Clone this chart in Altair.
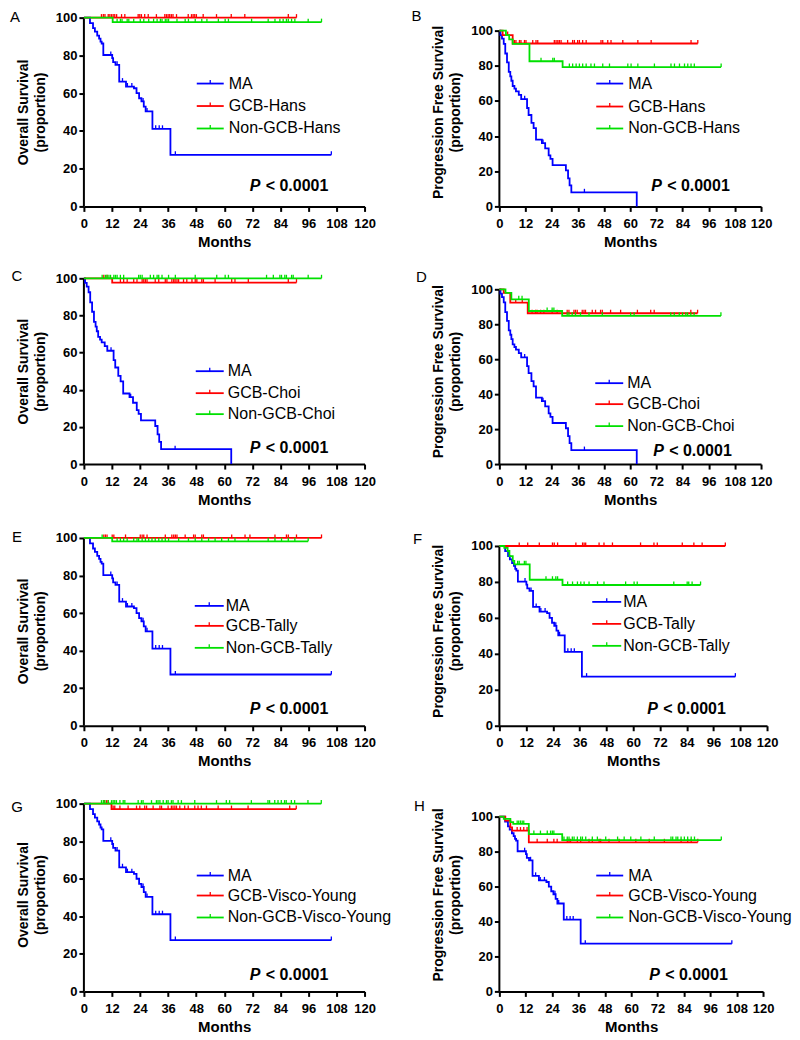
import altair as alt
import pandas as pd

FONT = "Liberation Sans"
X_TICKS = list(range(0, 121, 12))
Y_TICKS = [0, 20, 40, 60, 80, 100]
BLUE, RED, GREEN = "#0000ff", "#ff0000", "#00e000"
TICK = "M0,0L0,-1"

# ---- MA curve 1 (used in A, E, F, G, H)
MA1_T = [0, 2.6, 3.9, 4.7, 5.7, 6.5, 7.1, 7.6, 8.3, 12.1, 12.5, 13.5, 15.1, 18.0, 21.4, 22.5, 23.6, 24.6, 25.6, 26.4, 29.3, 37.0]
MA1_S = [100, 97.1, 94.4, 92.6, 90.5, 88.9, 87.3, 86.3, 80.2, 78.5, 76.4, 75.0, 66.1, 63.5, 62.6, 60.0, 57.3, 55.6, 52.9, 50.3, 41.1, 27.3]
MA1_END = 105.8
MA1_CENS = [11.5, 14.2, 16.5, 18.6, 20.5, 25.3, 27.0, 30.7, 32.2, 33.6, 39.1, 105.8]

# ---- MA curve 2 (used in B, C, D)
MA2_T = [0, 0.5, 1.2, 2.0, 2.7, 3.5, 4.3, 5.0, 5.5, 6.1, 6.9, 7.6, 8.9, 10.0, 12.7, 13.4, 14.7, 15.7, 16.8, 19.5, 21.0, 22.6, 23.4, 24.4, 30.5, 31.5, 32.2, 33.0, 63.0]
MA2_S = [100, 97.5, 95.5, 92.5, 87.0, 82.0, 76.5, 74.0, 71.5, 68.5, 67.0, 65.5, 63.5, 61.0, 56.0, 52.0, 47.5, 44.5, 38.0, 36.0, 33.0, 29.0, 27.0, 23.5, 20.5, 16.0, 12.0, 8.0, 0.0]
MA2_END = 63.0
MA2_CENS = [11.6, 20.0, 39.0]

# ---- A: OS, Hans
A_RED_T = [0]; A_RED_S = [100]; A_RED_END = 90.9
A_RED_CENS = [7.5, 8.3, 9.0, 10.4, 11.1, 11.8, 12.5, 13.2, 14.0, 16.1, 17.5, 23.2, 23.9, 24.6, 26.0, 27.5, 31.0, 34.6, 35.3, 36.0, 36.7, 37.4, 38.1, 39.6, 44.6, 46.0, 46.7, 47.4, 48.1, 51.0, 56.7, 63.0, 68.8, 87.4, 90.9]
A_GRN_T = [0, 12.3]; A_GRN_S = [100, 97.6]; A_GRN_END = 101.6
A_GRN_CENS = [14.2, 15.6, 16.3, 18.5, 19.2, 21.3, 24.1, 25.6, 27.7, 29.8, 31.3, 32.7, 33.4, 34.8, 35.5, 36.2, 39.8, 43.3, 44.7, 47.6, 50.4, 52.6, 57.5, 60.4, 61.8, 71.7, 78.8, 81.7, 83.8, 85.2, 86.6, 87.4, 88.8, 90.2, 95.9, 101.6]

# ---- B: PFS, Hans
B_RED_T = [0, 1.5, 6.1]; B_RED_S = [100, 97.5, 92.7]; B_RED_END = 91.0
B_RED_CENS = [3.8, 6.9, 7.6, 9.2, 9.9, 11.5, 12.2, 15.3, 16.8, 17.6, 25.2, 26.0, 26.8, 27.5, 28.3, 31.3, 33.6, 34.4, 35.9, 36.7, 38.2, 39.8, 46.6, 47.4, 49.7, 51.2, 56.6, 63.5, 69.6, 87.9, 91.0]
B_GRN_T = [0, 3.0, 4.5, 6.1, 13.8, 29.0]; B_GRN_S = [100, 97.5, 95.0, 92.5, 82.6, 79.3]; B_GRN_END = 101.7
B_GRN_CENS = [19.1, 24.5, 25.2, 32.1, 33.6, 35.2, 36.7, 38.2, 39.8, 42.0, 43.6, 47.4, 50.5, 58.9, 60.4, 63.5, 71.1, 78.7, 80.3, 82.6, 84.9, 86.4, 87.9, 89.4, 101.7]

# ---- C: OS, Choi
C_RED_T = [0, 12.1]; C_RED_S = [100, 97.7]; C_RED_END = 90.9
C_RED_CENS = [8.5, 9.9, 15.6, 17.0, 18.5, 21.3, 22.7, 24.9, 25.6, 26.3, 27.0, 30.5, 32.0, 34.8, 35.5, 37.6, 38.4, 39.0, 39.8, 40.5, 42.6, 44.0, 46.2, 47.6, 48.3, 50.4, 51.1, 56.1, 63.2, 64.6, 70.3, 87.4, 90.9]
C_GRN_T = [0]; C_GRN_S = [100]; C_GRN_END = 101.6
C_GRN_CENS = [7.8, 9.2, 9.9, 10.7, 11.4, 12.8, 13.5, 14.2, 15.6, 17.0, 23.4, 24.1, 24.9, 28.4, 29.8, 31.3, 32.0, 33.4, 36.2, 39.1, 47.6, 56.8, 60.4, 61.8, 78.1, 81.0, 83.8, 84.5, 85.9, 86.6, 88.8, 89.5, 95.9, 101.6]

# ---- D: PFS, Choi
D_RED_T = [0, 2.0, 5.0, 13.0]; D_RED_S = [100, 98.0, 92.4, 86.3]; D_RED_END = 90.9
D_RED_CENS = [7.5, 10.5, 15.0, 16.6, 17.3, 18.9, 20.4, 24.2, 26.5, 31.1, 31.9, 34.2, 34.9, 35.7, 38.0, 38.8, 39.5, 42.6, 44.1, 46.4, 47.2, 51.0, 55.6, 63.3, 69.4, 71.0, 87.8, 90.9]
D_GRN_T = [0, 2.8, 5.5, 13.5, 28.8]; D_GRN_S = [100, 98.0, 94.3, 87.6, 84.8]; D_GRN_END = 101.6
D_GRN_CENS = [8.9, 10.4, 21.9, 24.2, 25.0, 31.1, 31.9, 33.4, 34.9, 37.2, 41.1, 47.2, 60.2, 61.8, 78.6, 80.2, 82.5, 84.0, 85.5, 86.3, 87.8, 89.3, 101.6]

# ---- E: OS, Tally
E_RED_T = [0]; E_RED_S = [100]; E_RED_END = 101.6
E_RED_CENS = [8.5, 9.2, 9.9, 12.1, 12.8, 17.8, 24.1, 24.9, 25.6, 27.0, 34.8, 37.6, 38.4, 39.1, 39.8, 43.3, 46.9, 47.6, 50.4, 51.1, 63.2, 68.9, 71.0, 81.7, 86.6, 87.4, 90.9, 101.6]
E_GRN_T = [0, 12.1]; E_GRN_S = [100, 98.2]; E_GRN_END = 95.9
E_GRN_CENS = [7.8, 14.2, 15.6, 17.0, 18.5, 21.3, 22.7, 23.4, 24.9, 26.3, 27.7, 29.1, 30.5, 32.0, 33.4, 34.8, 36.2, 40.5, 44.7, 47.6, 50.4, 53.3, 56.1, 58.9, 61.8, 64.6, 70.3, 78.8, 81.7, 84.5, 87.4, 90.2, 95.9]

# ---- F: PFS, Tally
F_RED_T = [0]; F_RED_S = [100]; F_RED_END = 101.3
F_RED_CENS = [8.9, 12.7, 17.9, 23.8, 24.6, 26.1, 34.3, 37.3, 38.0, 38.7, 44.7, 46.9, 50.7, 63.3, 69.3, 70.8, 82.0, 87.2, 90.9, 101.3]
F_GRN_T = [0, 2.2, 3.7, 4.5, 6.0, 6.7, 13.6, 28.3]; F_GRN_S = [100, 98.9, 97.2, 94.4, 91.7, 89.8, 81.2, 78.3]; F_GRN_END = 90.2
F_GRN_CENS = [8.2, 8.9, 11.2, 11.9, 20.9, 23.8, 25.3, 26.1, 30.6, 32.8, 35.0, 36.5, 38.0, 40.2, 44.0, 46.9, 56.6, 60.4, 61.8, 78.2, 84.2, 84.9, 86.4, 90.2]

# ---- G: OS, Visco-Young
G_RED_T = [0, 11.8]; G_RED_S = [100, 97.1]; G_RED_END = 90.8
G_RED_CENS = [8.7, 9.7, 10.4, 12.5, 13.2, 15.4, 18.9, 22.5, 23.9, 26.0, 26.8, 29.6, 32.5, 33.2, 36.0, 37.4, 38.1, 38.9, 39.6, 41.0, 43.1, 44.6, 47.4, 48.8, 50.2, 52.4, 57.4, 63.1, 70.2, 88.0, 90.8]
G_GRN_T = [0]; G_GRN_S = [100]; G_GRN_END = 101.5
G_GRN_CENS = [7.5, 8.3, 9.0, 10.4, 11.8, 12.5, 13.2, 13.9, 15.4, 16.8, 17.5, 23.2, 24.6, 25.3, 28.9, 31.0, 31.7, 32.5, 33.9, 35.3, 36.0, 37.4, 38.1, 40.3, 41.7, 47.4, 56.7, 60.9, 62.3, 71.6, 78.7, 79.4, 81.6, 83.0, 84.4, 85.8, 86.5, 88.7, 90.1, 95.8, 101.5]

# ---- H: PFS, Visco-Young
H_RED_T = [0, 2.7, 5.0, 5.8, 13.4]; H_RED_S = [100, 97.7, 93.9, 92.0, 85.3]; H_RED_END = 90.3
H_RED_CENS = [8.1, 9.6, 11.1, 12.6, 17.2, 21.8, 24.8, 26.3, 30.9, 31.7, 32.4, 35.5, 37.0, 40.8, 42.3, 45.4, 46.1, 49.9, 54.5, 62.1, 68.2, 75.1, 82.7, 85.7, 87.3, 90.3]
H_GRN_T = [0, 2.0, 5.0, 6.3, 13.4, 28.6]; H_GRN_S = [100, 98.7, 96.8, 95.8, 90.0, 86.6]; H_GRN_END = 101.0
H_GRN_CENS = [8.1, 8.8, 9.6, 10.4, 11.1, 15.7, 18.7, 21.8, 23.3, 24.1, 24.8, 29.4, 30.9, 31.7, 33.2, 34.0, 35.5, 37.0, 37.8, 39.3, 42.3, 44.6, 48.4, 53.8, 56.8, 59.8, 64.4, 70.5, 78.1, 78.9, 80.4, 81.2, 82.7, 84.2, 85.7, 87.3, 88.8, 101.0]

OS_TITLE = ["Overall Survival", "(proportion)"]
PFS_TITLE = ["Progression Free Survival", "(proportion)"]


def step_df(T, S, end):
    ts, ss = list(T), list(S)
    if end > ts[-1]:
        ts.append(end)
        ss.append(ss[-1])
    return pd.DataFrame({"t": ts, "s": ss})


def cens_df(T, S, C):
    vals = []
    for c in C:
        v = S[0]
        for t, s in zip(T, S):
            if t <= c:
                v = s
        vals.append(v)
    return pd.DataFrame({"t": list(C), "s": vals})


def panel(letter, ytitle, names, series, width, height, ymax, lay):
    x = alt.X("t:Q", scale=alt.Scale(domain=[0, 120], nice=False, zero=False),
              axis=alt.Axis(values=X_TICKS, title="Months"))
    y = alt.Y("s:Q", scale=alt.Scale(domain=[0, ymax], nice=False),
              axis=alt.Axis(values=Y_TICKS, title=ytitle, domain=False))
    layers = [
        alt.Chart(pd.DataFrame({"t": [0], "s": [0], "s2": [100]}))
        .mark_rule(color="black", strokeWidth=2)
        .encode(x=x, y=y, y2="s2:Q")
    ]
    colors = [BLUE, RED, GREEN]
    for (T, S, end, C), col in zip(series, colors):
        layers.append(alt.Chart(step_df(T, S, end))
                      .mark_line(interpolate="step-after", color=col, strokeWidth=1.8)
                      .encode(x=x, y=y))
        layers.append(alt.Chart(cens_df(T, S, C))
                      .mark_point(shape=TICK, size=50, filled=False, color=col,
                                  strokeWidth=1.3, opacity=1)
                      .encode(x=x, y=y))
    # legend
    lx0, lx1, tx = lay["leg_x"]
    dummy = pd.DataFrame({"a": [0]})
    for name, col, yy in zip(names, colors, lay["leg_y"]):
        layers.append(alt.Chart(dummy).mark_rule(color=col, strokeWidth=1.8)
                      .encode(x=alt.value(lx0), x2=alt.value(lx1), y=alt.value(yy)))
        layers.append(alt.Chart(dummy).mark_point(shape=TICK, size=50, filled=False, color=col,
                                                  strokeWidth=1.3, opacity=1)
                      .encode(x=alt.value((lx0 + lx1) / 2), y=alt.value(yy)))
        layers.append(alt.Chart(pd.DataFrame({"lab": [name]}))
                      .mark_text(align="left", baseline="middle", fontSize=16, font=FONT, color="black")
                      .encode(text="lab:N", x=alt.value(tx), y=alt.value(yy)))
    # panel letter
    lxx, lyy = lay["letter"]
    layers.append(alt.Chart(pd.DataFrame({"lab": [letter]}))
                  .mark_text(align="center", baseline="middle", fontSize=15, font=FONT, color="black")
                  .encode(text="lab:N", x=alt.value(lxx + 3), y=alt.value(lyy + 3)))
    # p value
    px, py = lay["p"]
    layers.append(alt.Chart(pd.DataFrame({"lab": ["P"]}))
                  .mark_text(align="left", baseline="middle", fontSize=16, font=FONT,
                             fontWeight="bold", fontStyle="italic", color="black")
                  .encode(text="lab:N", x=alt.value(px), y=alt.value(height + py)))
    layers.append(alt.Chart(pd.DataFrame({"lab": ["< 0.0001"]}))
                  .mark_text(align="left", baseline="middle", fontSize=16, font=FONT,
                             fontWeight="bold", color="black")
                  .encode(text="lab:N", x=alt.value(px + 16), y=alt.value(height + py)))
    return alt.layer(*layers).properties(width=width, height=height)


def trio(ma, red, grn):
    return [ma, red, grn]


MA1 = (MA1_T, MA1_S, MA1_END, MA1_CENS)
MA2 = (MA2_T, MA2_S, MA2_END, MA2_CENS)

pA = panel("A", OS_TITLE, ["MA", "GCB-Hans", "Non-GCB-Hans"],
           trio(MA1, (A_RED_T, A_RED_S, A_RED_END, A_RED_CENS), (A_GRN_T, A_GRN_S, A_GRN_END, A_GRN_CENS)),
           281, 189, 100, {"leg_x": (113, 140, 145), "leg_y": (66, 88.5, 111), "letter": (-72, -4), "p": (166, -20)})
pB = panel("B", PFS_TITLE, ["MA", "GCB-Hans", "Non-GCB-Hans"],
           trio(MA2, (B_RED_T, B_RED_S, B_RED_END, B_RED_CENS), (B_GRN_T, B_GRN_S, B_GRN_END, B_GRN_CENS)),
           262, 189, 107.4, {"leg_x": (97, 124, 129), "leg_y": (66, 89, 111), "letter": (-86, -5), "p": (152, -20)})
pC = panel("C", OS_TITLE, ["MA", "GCB-Choi", "Non-GCB-Choi"],
           trio(MA2, (C_RED_T, C_RED_S, C_RED_END, C_RED_CENS), (C_GRN_T, C_GRN_S, C_GRN_END, C_GRN_CENS)),
           281, 186, 100, {"leg_x": (112, 140, 144), "leg_y": (93, 115, 136), "letter": (-70, -5), "p": (166, -16)})
pD = panel("D", PFS_TITLE, ["MA", "GCB-Choi", "Non-GCB-Choi"],
           trio(MA2, (D_RED_T, D_RED_S, D_RED_END, D_RED_CENS), (D_GRN_T, D_GRN_S, D_GRN_END, D_GRN_CENS)),
           262, 186, 106.3, {"leg_x": (96, 124, 128), "leg_y": (105, 126, 148), "letter": (-81, -4), "p": (154, -13)})
pE = panel("E", OS_TITLE, ["MA", "GCB-Tally", "Non-GCB-Tally"],
           trio(MA1, (E_RED_T, E_RED_S, E_RED_END, E_RED_CENS), (E_GRN_T, E_GRN_S, E_GRN_END, E_GRN_CENS)),
           281, 190, 101.06, {"leg_x": (111, 140, 142), "leg_y": (70, 90, 112), "letter": (-70, -2), "p": (166, -17)})
pF = panel("F", PFS_TITLE, ["MA", "GCB-Tally", "Non-GCB-Tally"],
           trio(MA1, (F_RED_T, F_RED_S, F_RED_END, F_RED_CENS), (F_GRN_T, F_GRN_S, F_GRN_END, F_GRN_CENS)),
           268, 190, 105.56, {"leg_x": (93, 122, 124), "leg_y": (66, 88, 110), "letter": (-85, 0), "p": (148, -17)})
pG = panel("G", OS_TITLE, ["MA", "GCB-Visco-Young", "Non-GCB-Visco-Young"],
           trio(MA1, (G_RED_T, G_RED_S, G_RED_END, G_RED_CENS), (G_GRN_T, G_GRN_S, G_GRN_END, G_GRN_CENS)),
           281, 194, 103.19, {"leg_x": (113, 140, 144), "leg_y": (78, 98, 120), "letter": (-70, 6), "p": (166, -16)})
pH = panel("H", PFS_TITLE, ["MA", "GCB-Visco-Young", "Non-GCB-Visco-Young"],
           trio(MA1, (H_RED_T, H_RED_S, H_RED_END, H_RED_CENS), (H_GRN_T, H_GRN_S, H_GRN_END, H_GRN_CENS)),
           264, 194, 110.86, {"leg_x": (97, 124, 129), "leg_y": (78, 98, 120), "letter": (-83, 5), "p": (150, -16)})

chart = (
    alt.concat(pA, pB, pC, pD, pE, pF, pG, pH, columns=2,
               spacing={"row": 72, "column": 135}, bounds="flush",
               padding={"left": 1, "top": 0, "right": 0, "bottom": 0})
    .configure_view(stroke=None)
    .configure_axis(labelFont=FONT, labelFontSize=13, labelFontWeight="bold", labelColor="black",
                    titleFont=FONT, titleFontWeight="bold", titleColor="black",
                    domainColor="black", domainWidth=2, tickColor="black", tickWidth=2,
                    tickSize=5, grid=False, labelOverlap=False, labelFlush=False)
    .configure_axisX(labelPadding=6, titlePadding=4, titleFontSize=15)
    .configure_axisY(labelPadding=2, titlePadding=8, titleFontSize=14, titleLineHeight=17)
)

chart.save("out.html", embed_options={"renderer": "svg", "actions": False})
